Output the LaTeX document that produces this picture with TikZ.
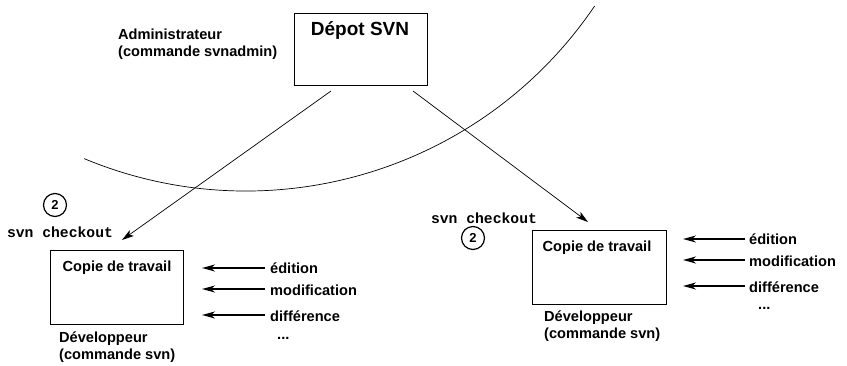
\documentclass[tikz,border=0pt]{standalone}
\usepackage{fontspec}
\setmainfont{Liberation Sans}
\setmonofont{Liberation Mono}
\usetikzlibrary{arrows.meta}
\begin{document}
\begin{tikzpicture}[x=1pt,y=1pt,
  lbl/.style={font=\bfseries\fontsize{14.6}{17}\selectfont, inner sep=0pt, align=left, anchor=west},
  ttl/.style={font=\bfseries\fontsize{19}{21}\selectfont, inner sep=0pt},
  mono/.style={font=\ttfamily\bfseries\fontsize{14.7}{17}\selectfont, inner sep=0pt},
  boxn/.style={draw, line width=0.8pt, inner sep=0pt},
  num/.style={circle, draw, line width=1.2pt, minimum size=23pt, inner sep=0pt, font=\bfseries\fontsize{13}{13}\selectfont},
  longarr/.style={-{Stealth[length=12pt,width=7pt,inset=3pt]}, line width=0.7pt},
  shortarr/.style={-{Stealth[length=13pt,width=7pt,inset=4pt]}, line width=1.5pt}]
\useasboundingbox (0,0) rectangle (847,-365);
% repository
\node[boxn, minimum width=133pt, minimum height=72pt] (depot) at (360.5,-49) {};
\node[ttl] (depottxt) at (360,-30) {Dépot SVN};
\node[lbl] (admin) at (118,-44) {Administrateur\\(commande svnadmin)};
% arc
\draw[line width=0.7pt] (246,230) ++(247.4:421pt) arc[start angle=247.4, end angle=325.9, radius=421pt];
% left working copy
\node[boxn, minimum width=133pt, minimum height=74pt] (wc1) at (116.5,-287) {};
\node[lbl, anchor=center] (wc1txt) at (117,-268) {Copie de travail};
\node[lbl] (dev1) at (59,-347) {Développeur\\(commande svn)};
\node[num] (n1) at (55,-205) {2};
\node[mono] (co1) at (60,-232) {svn checkout};
\coordinate (s1) at (331,-91);
\coordinate (t1) at (122,-240);
\draw[longarr] (s1) -- (t1);
\node[lbl] (e1) at (270,-268) {édition};
\node[lbl] (m1) at (270,-290) {modification};
\node[lbl] (d1) at (270,-316) {différence};
\node[lbl] (p1) at (277,-338) {...};
\coordinate (ea1) at (202,-268);
\coordinate (ma1) at (202,-289);
\coordinate (da1) at (202,-315);
\draw[shortarr] (e1.west -| 265,0) ++(0,0) -- (ea1);
\draw[shortarr] (265,-289) -- (ma1);
\draw[shortarr] (265,-315) -- (da1);
% right working copy
\node[boxn, minimum width=134pt, minimum height=74pt] (wc2) at (599,-267) {};
\node[lbl, anchor=center] (wc2txt) at (597,-248) {Copie de travail};
\node[lbl] (dev2) at (544,-326) {Développeur\\(commande svn)};
\node[num] (n2) at (473,-238) {2};
\node[mono] (co2) at (484,-218) {svn checkout};
\coordinate (s2) at (413,-91);
\coordinate (t2) at (588,-222);
\draw[longarr] (s2) -- (t2);
\node[lbl] (e2) at (749,-239) {édition};
\node[lbl] (m2) at (749,-261) {modification};
\node[lbl] (d2) at (749,-287) {différence};
\node[lbl] (p2) at (758,-308) {...};
\coordinate (ea2) at (683,-239);
\coordinate (ma2) at (683,-260);
\coordinate (da2) at (683,-286);
\draw[shortarr] (745,-239) -- (ea2);
\draw[shortarr] (745,-260) -- (ma2);
\draw[shortarr] (745,-286) -- (da2);
\end{tikzpicture}
\end{document}
